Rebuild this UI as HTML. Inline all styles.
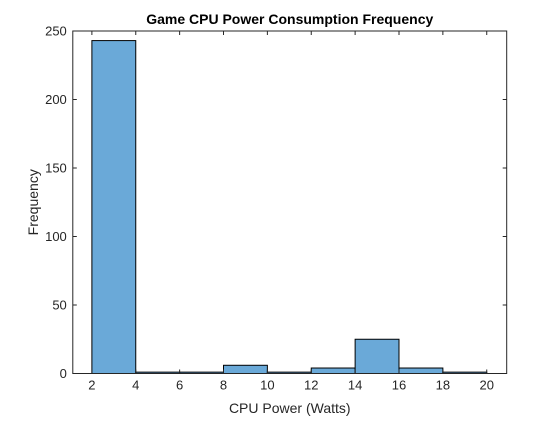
<!DOCTYPE html>
<html><head><meta charset="utf-8"><style>
body{margin:0;background:#fff;}
svg text{font-family:"Liberation Sans",Arial,sans-serif;}
</style></head><body>
<svg id="chart" width="560" height="420" xmlns="http://www.w3.org/2000/svg"></svg>
<script>
const binEdges = [2,4,6,8,10,12,14,16,18,20];
const counts = [243,1,1,6,1,4,25,4,1];
const xTicks = [2,4,6,8,10,12,14,16,18,20];
const yTicks = [0,50,100,150,200,250];

const L=72.8,R=506.7,T=31,B=373.5;
const xMin=1.13,xMax=20.91,yMin=0,yMax=250;
const xs=v=>L+(v-xMin)/(xMax-xMin)*(R-L);
const ys=v=>B-(v-yMin)/(yMax-yMin)*(B-T);
const svg=document.getElementById('chart');
const NS='http://www.w3.org/2000/svg';
function mk(tag,attrs,parent){const e=document.createElementNS(NS,tag);for(const k in attrs)e.setAttribute(k,attrs[k]);(parent||svg).appendChild(e);return e;}

const bg=mk('rect',{x:L,y:T,width:R-L,height:B-T,fill:'#fff'});



for(let i=0;i<counts.length;i++){
  const x0=xs(binEdges[i]),x1=xs(binEdges[i+1]);
  const b=mk('rect',{x:x0,y:ys(counts[i]),width:x1-x0,height:B-ys(counts[i]),fill:'#6aa9d8',stroke:'#000','stroke-width':1});
  
  
}

const frame=mk('rect',{x:L,y:T,width:R-L,height:B-T,fill:'none',stroke:'#262626','stroke-width':1});



xTicks.forEach(v=>{
  const x=xs(v);
  mk('line',{x1:x,x2:x,y1:B,y2:B-4,stroke:'#262626'});
  mk('line',{x1:x,x2:x,y1:T,y2:T+4,stroke:'#262626'});
  const t=mk('text',{x:x,y:B+16,'text-anchor':'middle','font-size':13,fill:'#262626'});
  t.textContent=v;
  
  
});
yTicks.forEach(v=>{
  const y=ys(v);
  mk('line',{x1:L,x2:L+4,y1:y,y2:y,stroke:'#262626'});
  mk('line',{x1:R,x2:R-4,y1:y,y2:y,stroke:'#262626'});
  const t=mk('text',{x:L-6,y:y+4.5,'text-anchor':'end','font-size':13,fill:'#262626'});
  t.textContent=v;
  
  
});

const title=mk('text',{x:(L+R)/2,y:24,'text-anchor':'middle','font-size':14,'font-weight':'bold',fill:'#000'});
title.textContent='Game CPU Power Consumption Frequency';



const xl=mk('text',{x:(L+R)/2,y:413,'text-anchor':'middle','font-size':14,fill:'#262626'});
xl.textContent='CPU Power (Watts)';



const yl=mk('text',{x:0,y:0,'text-anchor':'middle','font-size':14,fill:'#262626',transform:'translate(38,'+((T+B)/2)+') rotate(-90)'});
yl.textContent='Frequency';


</script>
</body></html>
